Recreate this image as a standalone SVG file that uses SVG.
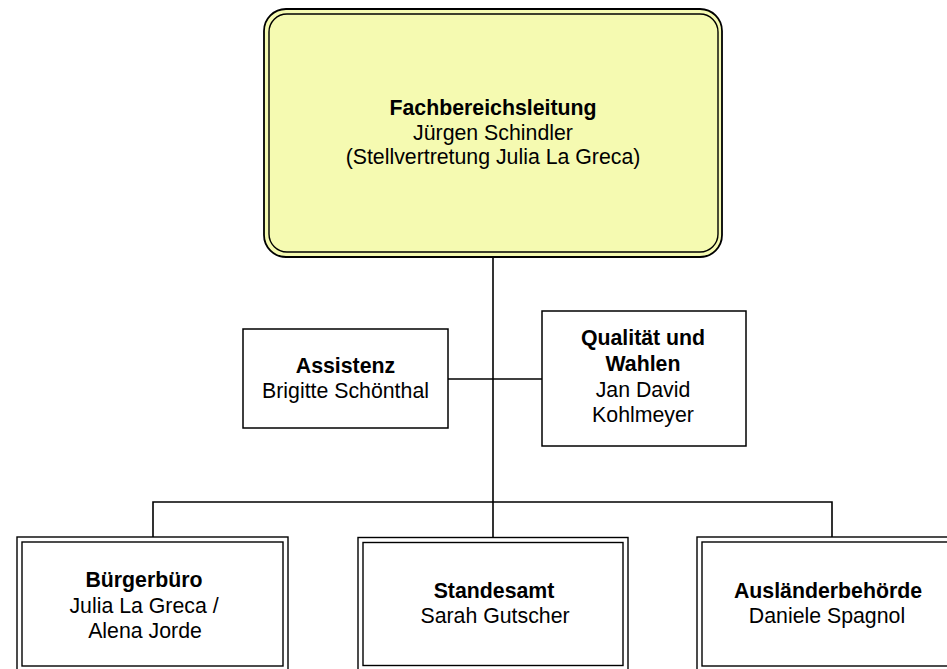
<svg xmlns="http://www.w3.org/2000/svg" width="947" height="669" viewBox="0 0 947 669">
<style>
text{font-family:"Liberation Sans",Arial,sans-serif;font-size:21.3px;fill:#000;text-anchor:middle}
.b{font-weight:bold}
.box{fill:#fff;stroke:#000;stroke-width:1.5}
.dbl{fill:none;stroke:#000;stroke-width:1.4}
.top{fill:#F5FAB1;stroke:#000;stroke-width:1.8}
.conn{fill:none;stroke:#000;stroke-width:1.6}
</style>
<rect width="947" height="669" fill="#fff"/>
<g id="connectors">
<path class="conn" d="M493 257V537"/>
<path class="conn" d="M448 379H542"/>
<path class="conn" d="M153 537V502H832V537"/>
</g>
<g id="fachbereichsleitung">
<rect class="top" x="264" y="9" width="458" height="248" rx="22"/>
<rect class="dbl" x="269" y="14" width="449" height="238" rx="18" stroke-width="1.8"/>
<text class="b" x="493" y="115">Fachbereichsleitung</text>
<text x="493" y="139.5">Jürgen Schindler</text>
<text x="493" y="164">(Stellvertretung Julia La Greca)</text>
</g>
<g id="assistenz">
<rect class="box" x="243" y="329" width="205" height="99"/>
<text class="b" x="345.5" y="373">Assistenz</text>
<text x="345.5" y="397.5">Brigitte Schönthal</text>
</g>
<g id="qualitaet">
<rect class="box" x="542" y="311" width="204" height="135"/>
<text class="b" x="643" y="345">Qualität und</text>
<text class="b" x="643" y="371">Wahlen</text>
<text x="643" y="396.5">Jan David</text>
<text x="643" y="422">Kohlmeyer</text>
</g>
<g id="buergerbuero">
<rect class="dbl" x="17" y="537" width="271" height="140"/>
<rect class="dbl" x="22" y="542" width="261" height="124"/>
<text class="b" x="144" y="586.5">Bürgerbüro</text>
<text x="144" y="612.5">Julia La Greca /</text>
<text x="145" y="638">Alena Jorde</text>
</g>
<g id="standesamt">
<rect class="dbl" x="358" y="537.5" width="270" height="140"/>
<rect class="dbl" x="363" y="542.5" width="260" height="123"/>
<text class="b" x="494" y="598">Standesamt</text>
<text x="495" y="623">Sarah Gutscher</text>
</g>
<g id="auslaenderbehoerde">
<rect class="dbl" x="697" y="537" width="271" height="140"/>
<rect class="dbl" x="702" y="542" width="261" height="124"/>
<text class="b" x="828" y="598">Ausländerbehörde</text>
<text x="827" y="623">Daniele Spagnol</text>
</g>
</svg>
